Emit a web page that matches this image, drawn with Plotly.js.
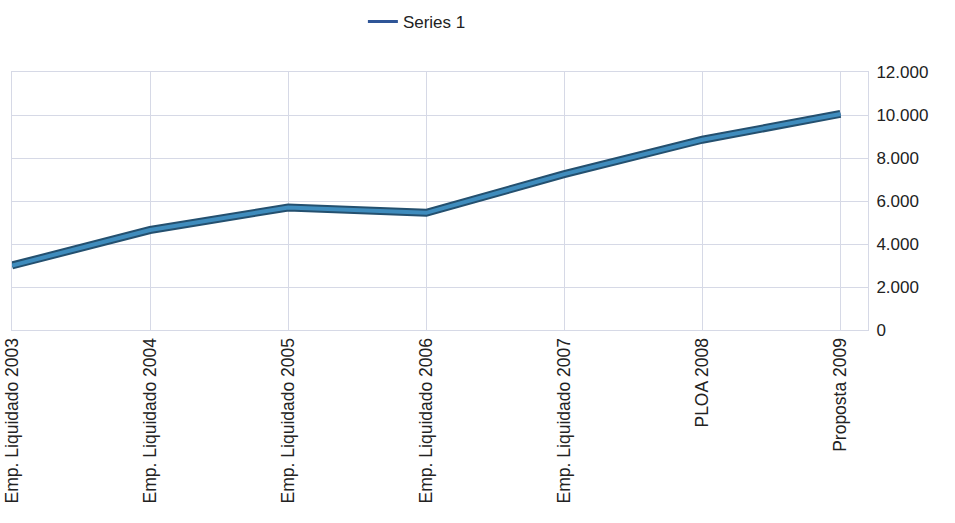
<!DOCTYPE html>
<html>
<head>
<meta charset="utf-8">
<script src="https://cdn.plot.ly/plotly-3.0.1.min.js"></script>
<style>html,body{margin:0;padding:0;background:#fff;}#chart{width:955px;height:523px;}</style>
</head>
<body>
<div id="chart"></div>
<script>
const categories = ["Emp. Liquidado 2003","Emp. Liquidado 2004","Emp. Liquidado 2005","Emp. Liquidado 2006","Emp. Liquidado 2007","PLOA 2008","Proposta 2009"];
const series1 = [3000, 4650, 5700, 5450, 7250, 8850, 10050];
const seriesName = "Series 1";
const yTickValues = [0, 2000, 4000, 6000, 8000, 10000, 12000];

const traces = [
  {x: categories, y: series1, type: "scatter", mode: "lines", name: seriesName,
   line: {color: "#2f5597", width: 3}, showlegend: true, hoverinfo: "skip"},
  {x: categories, y: series1, type: "scatter", mode: "lines", name: seriesName,
   line: {color: "#24506f", width: 8}, showlegend: false},
  {x: categories, y: series1, type: "scatter", mode: "lines", name: seriesName,
   line: {color: "#3f8cbd", width: 4}, showlegend: false}
];

const layout = {
  width: 955, height: 523,
  margin: {l: 12, r: 87, t: 72, b: 193, autoexpand: false},
  paper_bgcolor: "#ffffff", plot_bgcolor: "#ffffff",
  separators: ",.",
  font: {family: "Liberation Sans, Arial, sans-serif", color: "#222222", size: 16},
  showlegend: true,
  legend: {orientation: "h", x: 0.473, xanchor: "center", yref: "container", y: 0.958, yanchor: "middle",
           font: {size: 17, color: "#222222"}, itemwidth: 30},
  xaxis: {type: "category", range: [0, 6.2], showgrid: true, gridcolor: "#d6d9e6", gridwidth: 1,
          tickangle: -90, tickfont: {size: 17.5, color: "#222222"}, ticks: "",
          showline: true, mirror: true, linecolor: "#d6d9e6", linewidth: 1,
          zeroline: false, fixedrange: true},
  yaxis: {side: "right", range: [0, 12000], tickvals: yTickValues, tickformat: ",d",
          showgrid: true, gridcolor: "#d6d9e6", gridwidth: 1, zeroline: false,
          showline: true, mirror: true, linecolor: "#d6d9e6", linewidth: 1, ticks: "", ticklabelstandoff: 4,
          tickfont: {size: 17, color: "#222222"}, fixedrange: true}
};

Plotly.newPlot("chart", traces, layout, {displayModeBar: false, staticPlot: true});
</script>
</body>
</html>
